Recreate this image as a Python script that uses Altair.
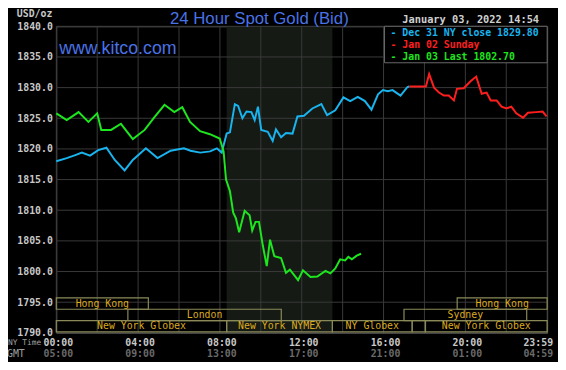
import altair as alt
import pandas as pd

# ---------------- data ----------------
series_names = ["Dec 31 NY close 1829.80", "Jan 02 Sunday", "Jan 03 Last 1802.70"]
series_colors = ["#19b4ee", "#ff1e1e", "#1ee61e"]

blue_h = [0.0, 0.51, 0.93, 1.25, 1.65, 2.05, 2.45, 2.86, 3.34, 3.74, 4.38, 4.95, 5.59, 6.24,
          6.56, 7.04, 7.52, 7.85, 8.09, 8.33, 8.49, 8.73, 8.89, 9.10, 9.30, 9.54, 9.70, 9.86,
          10.02, 10.34, 10.58, 10.74, 10.99, 11.23, 11.55, 11.79, 12.11, 12.52, 12.96, 13.24,
          13.64, 14.04, 14.37, 14.74, 15.09, 15.41, 15.73, 15.97, 16.21, 16.44, 16.83, 17.17, 17.26]
blue_v = [1818.0, 1818.5, 1819.0, 1819.4, 1818.9, 1819.8, 1820.2, 1818.2, 1816.5, 1818.2, 1820.1,
          1818.5, 1819.7, 1820.1, 1819.7, 1819.4, 1819.6, 1820.1, 1819.4, 1822.5, 1822.7, 1827.3,
          1827.0, 1825.0, 1826.1, 1826.0, 1824.7, 1826.9, 1823.1, 1822.8, 1821.3, 1823.2, 1821.9,
          1822.6, 1822.5, 1825.3, 1825.4, 1826.6, 1827.3, 1825.5, 1826.3, 1828.4, 1827.8, 1828.5,
          1827.8, 1826.4, 1828.9, 1829.6, 1829.4, 1829.6, 1828.7, 1830.1, 1830.2]

red_h = [17.26, 18.07, 18.23, 18.47, 18.71, 18.95, 19.19, 19.44, 19.59, 19.92, 20.24, 20.53,
         20.80, 21.04, 21.24, 21.53, 21.77, 22.01, 22.25, 22.49, 22.82, 23.06, 23.46, 23.78, 23.97]
red_v = [1830.2, 1830.2, 1832.2, 1830.0, 1829.2, 1828.7, 1828.7, 1827.9, 1829.8, 1829.9, 1831.0,
         1831.8, 1829.0, 1829.2, 1827.9, 1827.9, 1826.9, 1826.6, 1826.9, 1825.8, 1825.1, 1825.9,
         1826.0, 1826.1, 1825.3]

green_h = [0.0, 0.51, 1.09, 1.57, 2.00, 2.20, 2.68, 3.16, 3.74, 4.32, 4.80, 5.29, 5.77, 6.16,
           6.54, 7.03, 7.51, 7.99, 8.18, 8.30, 8.49, 8.65, 8.78, 8.94, 9.21, 9.45, 9.58, 9.74,
           9.91, 10.10, 10.29, 10.45, 10.66, 10.99, 11.23, 11.42, 11.63, 11.82, 12.06, 12.43,
           12.76, 13.16, 13.40, 13.64, 13.88, 14.12, 14.28, 14.45, 14.69, 14.90]
green_v = [1825.8, 1824.7, 1826.0, 1824.4, 1825.8, 1823.1, 1823.1, 1824.1, 1821.6, 1823.1, 1825.2,
           1827.2, 1826.0, 1826.8, 1824.4, 1822.9, 1822.4, 1821.7, 1819.6, 1815.0, 1813.1, 1809.6,
           1808.7, 1806.4, 1809.9, 1809.2, 1806.7, 1808.1, 1808.1, 1804.2, 1800.9, 1805.2, 1802.5,
           1802.2, 1799.8, 1800.3, 1799.4, 1798.6, 1800.2, 1799.1, 1799.2, 1800.1, 1799.7, 1800.5,
           1802.0, 1801.8, 1802.4, 1802.0, 1802.6, 1802.9]

y_ticks = [1790, 1795, 1800, 1805, 1810, 1815, 1820, 1825, 1830, 1835, 1840]
x_grid = [0, 2, 4, 6, 8, 10, 12, 14, 16, 18, 20, 22, 24]
ny_hours = [0, 4, 8, 12, 16, 20, 24]
ny_labels = ["00:00", "04:00", "08:00", "12:00", "16:00", "20:00", "23:59"]
gmt_labels = ["05:00", "09:00", "13:00", "17:00", "21:00", "01:00", "04:59"]

sess_names = ["Hong Kong", "Hong Kong", "London", "Sydney", "New York Globex",
              "New York NYMEX", "NY Globex", "", "New York Globex"]
sess_start = [0, 19.6, 3.5, 17.0, 0, 8.33, 13.5, 17.4, 18.05]
sess_end = [4.5, 24, 11.0, 23.0, 8.33, 13.5, 17.4, 18.05, 24]
sess_row = [0, 0, 1, 1, 2, 2, 2, 2, 2]
row_top = [1795.7, 1793.85, 1792.0]
row_bottom = [1793.85, 1792.0, 1790.15]

title_text = "24 Hour Spot Gold (Bid)"
site_text = "www.kitco.com"
date_text = "January 03, 2022 14:54"
unit_text = "USD/oz"

# ---------------- frames ----------------
rows = []
for name, hs, vs in [(series_names[0], blue_h, blue_v),
                     (series_names[1], red_h, red_v),
                     (series_names[2], green_h, green_v)]:
    for h, v in zip(hs, vs):
        rows.append({"series": name, "h": h, "v": v})
lines_df = pd.DataFrame(rows)

sess_df = pd.DataFrame({
    "name": sess_names, "start": sess_start, "end": sess_end,
    "top": [row_top[r] for r in sess_row], "bottom": [row_bottom[r] for r in sess_row],
})
sess_df["mid"] = (sess_df["start"] + sess_df["end"]) / 2
sess_df["vmid"] = (sess_df["top"] + sess_df["bottom"]) / 2

xs = alt.Scale(domain=[0, 24], nice=False, zero=False)
ys = alt.Scale(domain=[1790, 1840], nice=False, zero=False)
yax = alt.Axis(values=y_ticks, format=".1f", grid=False, ticks=False, domain=False,
               labelPadding=4, labelColor="#c8c8c8", labelFont="DejaVu Sans Mono",
               labelFontWeight="bold", labelFontSize=10, title=None)

MONO = "DejaVu Sans Mono"
SANS = "Liberation Sans"
W, H = 498, 311

nymex = sess_df[sess_df["name"] == "New York NYMEX"]
shade = alt.Chart(nymex).mark_rect(color="#151a15").encode(
    x=alt.X("start:Q", scale=xs, axis=None), x2="end:Q",
    y=alt.value(0), y2=alt.value(H))

ygrid = alt.Chart(pd.DataFrame({"v": y_ticks})).mark_rule(color="#3a3a3a", strokeWidth=1).encode(
    y=alt.Y("v:Q", scale=ys, axis=yax))
xgrid = alt.Chart(pd.DataFrame({"h": x_grid})).mark_rule(color="#3a3a3a", strokeWidth=1).encode(
    x=alt.X("h:Q", scale=xs, axis=None))

boxes = alt.Chart(sess_df).mark_rect(fillOpacity=0, stroke="#8a8a58", strokeWidth=1.2).encode(
    x=alt.X("start:Q", scale=xs, axis=None), x2="end:Q",
    y=alt.Y("top:Q", scale=ys, axis=yax), y2="bottom:Q")
box_text = alt.Chart(sess_df).mark_text(font=MONO, fontSize=10, color="#dcaa1e",
                                        baseline="middle").encode(
    x=alt.X("mid:Q", scale=xs, axis=None), y=alt.Y("vmid:Q", scale=ys, axis=yax), text="name:N")

lines = alt.Chart(lines_df).mark_line(strokeWidth=2, interpolate="linear").encode(
    x=alt.X("h:Q", scale=xs, axis=None),
    y=alt.Y("v:Q", scale=ys, axis=yax),
    color=alt.Color("series:N", scale=alt.Scale(domain=series_names, range=series_colors), legend=None),
    detail="series:N")

legend_box = alt.Chart(pd.DataFrame({"a": [0]})).mark_rect(fill="#000000", stroke="#6a6a6a").encode(
    x=alt.value(333), x2=alt.value(W), y=alt.value(0), y2=alt.value(37))
legend_texts = []
for i, (name, col) in enumerate(zip(series_names, series_colors)):
    legend_texts.append(
        alt.Chart(pd.DataFrame({"t": ["- " + name]})).mark_text(
            font=MONO, fontSize=10, fontWeight="bold", align="left", baseline="middle", color=col
        ).encode(x=alt.value(339), y=alt.value(7 + 12 * i), text="t:N"))

def label(txt, x, y, size, color, font=MONO, align="left", weight="normal"):
    return alt.Chart(pd.DataFrame({"t": [txt]})).mark_text(
        font=font, fontSize=size, color=color, align=align, baseline="middle", fontWeight=weight
    ).encode(x=alt.value(x), y=alt.value(y), text="t:N")

title = label(title_text, 206, -7, 17, "#4a72e6", font=SANS, align="center")
site = label(site_text, 3, 23, 18, "#4a72e6", font=SANS)
date = label(date_text, 351, -6, 10.5, "#d0d0d0", weight="bold")
unit = label(unit_text, -4, -12, 10, "#c8c8c8", align="right", weight="bold")
nytime = label("NY Time", -49, 321, 8, "#a0a0a0")
gmt = label("GMT", -32, 333, 10, "#a0a0a0", align="right")

xl_df = pd.DataFrame({"h": ny_hours, "ny": ny_labels, "gmt": gmt_labels})
xl_main = xl_df.iloc[:-1]
xl_last = xl_df.iloc[-1:]
ny_lab = alt.Chart(xl_main).mark_text(font=MONO, fontSize=10, fontWeight="bold", color="#c8c8c8",
                                      baseline="middle", dx=2).encode(
    x=alt.X("h:Q", scale=xs, axis=None), y=alt.value(321), text="ny:N")
gmt_lab = alt.Chart(xl_main).mark_text(font=MONO, fontSize=10, fontWeight="bold", color="#6a6a6a",
                                       baseline="middle", dx=2).encode(
    x=alt.X("h:Q", scale=xs, axis=None), y=alt.value(333), text="gmt:N")
ny_last = alt.Chart(xl_last).mark_text(font=MONO, fontSize=10, fontWeight="bold", color="#c8c8c8",
                                       baseline="middle", align="right", dx=6).encode(
    x=alt.X("h:Q", scale=xs, axis=None), y=alt.value(321), text="ny:N")
gmt_last = alt.Chart(xl_last).mark_text(font=MONO, fontSize=10, fontWeight="bold", color="#6a6a6a",
                                        baseline="middle", align="right", dx=6).encode(
    x=alt.X("h:Q", scale=xs, axis=None), y=alt.value(333), text="gmt:N")

chart = alt.layer(
    shade, ygrid, xgrid, boxes, box_text, lines, legend_box, *legend_texts,
    title, site, date, unit, nytime, gmt, ny_lab, gmt_lab, ny_last, gmt_last
).properties(
    width=W, height=H,
    autosize=alt.AutoSizeParams(type="none"),
    padding={"left": 49, "top": 16, "right": 11, "bottom": 27},
    background="#000000",
).configure_view(stroke="#5a5a5a", strokeWidth=1)

chart.save("out.html", embed_options={"renderer": "svg", "actions": False})
